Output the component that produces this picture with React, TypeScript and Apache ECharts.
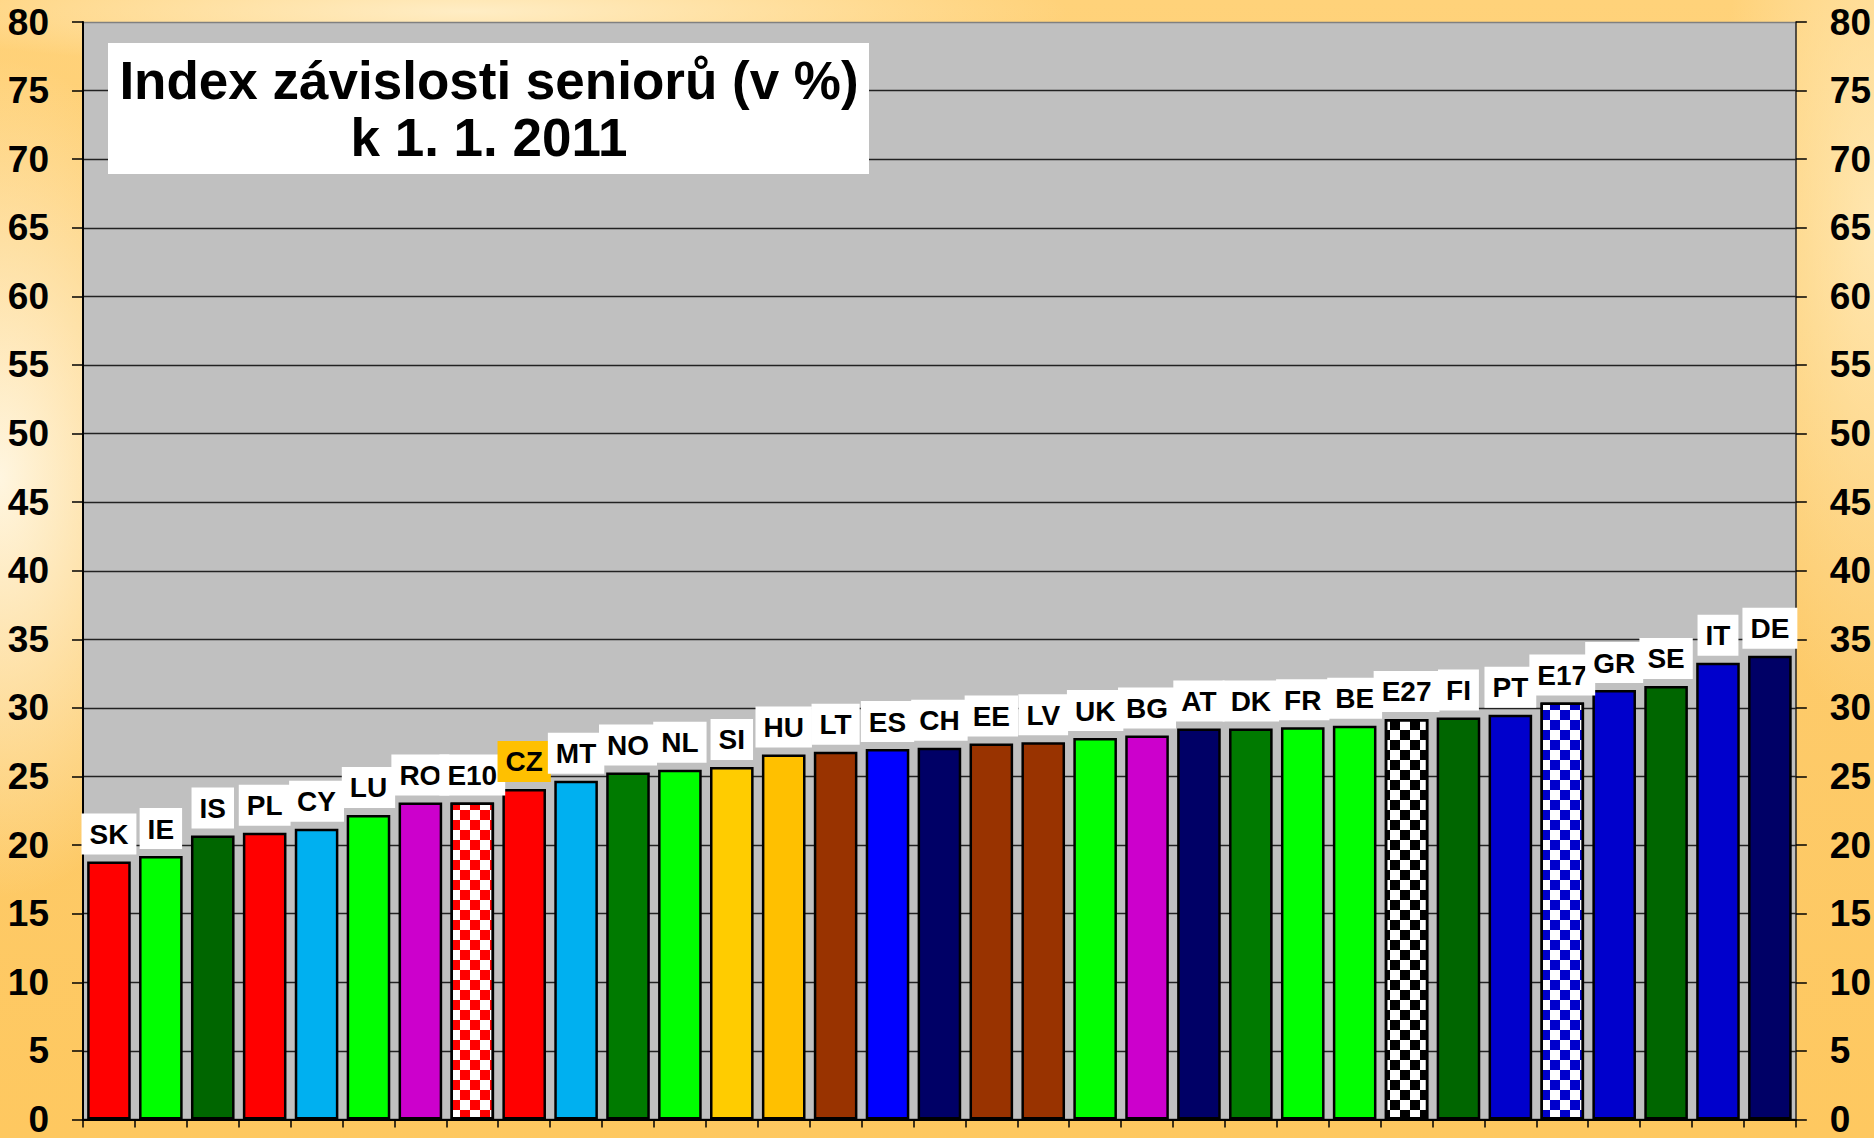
import React, { useEffect, useRef } from "react";
import * as echarts from "echarts";

const categories = ["SK","IE","IS","PL","CY","LU","RO","E10","CZ","MT","NO","NL","SI","HU","LT","ES","CH","EE","LV","UK","BG","AT","DK","FR","BE","E27","FI","PT","E17","GR","SE","IT","DE"];
const values = [18.8,19.2,20.7,20.9,21.2,22.2,23.1,23.1,24.1,24.7,25.3,25.5,25.7,26.6,26.8,27.0,27.1,27.4,27.5,27.8,28.0,28.5,28.5,28.6,28.7,29.2,29.3,29.5,30.4,31.3,31.6,33.3,33.8];
const yTicks = [0,5,10,15,20,25,30,35,40,45,50,55,60,65,70,75,80];
const titleLines = ["Index závislosti seniorů (v %)", "k 1. 1. 2011"];

const barColors: Record<string, string> = {
  SK: "#FF0000", IE: "#00FF00", IS: "#006600", PL: "#FF0000", CY: "#00B0F0",
  LU: "#00FF00", RO: "#CC00CC", CZ: "#FF0000", MT: "#00B0F0", NO: "#007A00",
  NL: "#00FF00", SI: "#FFCC00", HU: "#FFC000", LT: "#993300", ES: "#0000FF",
  CH: "#000066", EE: "#993300", LV: "#993300", UK: "#00FF00", BG: "#CC00CC",
  AT: "#000066", DK: "#007A00", FR: "#00FF00", BE: "#00FF00", FI: "#006600",
  PT: "#0000CC", GR: "#0000CC", SE: "#006600", IT: "#0000CC", DE: "#000066",
};
const checkerColors: Record<string, string> = { E10: "#FF0000", E27: "#000000", E17: "#0000CC" };
const highlighted = "CZ";

const FONT = "'Liberation Sans', Arial, sans-serif";

export default function App() {
  const ref = useRef<HTMLDivElement>(null);
  useEffect(() => {
    if (!ref.current) return;
    const chart = echarts.init(ref.current, undefined, { renderer: "svg" });
    const data = categories.map((c, i) => {
      const checker = checkerColors[c];
      const item: any = {
        value: values[i],
        itemStyle: checker
          ? {
              color: "#FFFFFF",
              decal: {
                symbol: "rect",
                symbolSize: 1,
                color: checker,
                dashArrayX: [[10, 10], [0, 10, 10, 0]],
                dashArrayY: [10, 0],
                rotation: 0,
              },
            }
          : { color: barColors[c] },
      };
      if (c === highlighted) item.label = { backgroundColor: "#FFC000" };
      return item;
    });
    const splitColors = yTicks.map((t) => (t === 80 ? "#808080" : "#222222"));
    const yAxisCommon = {
      type: "value",
      min: 0,
      max: 80,
      interval: 5,
      axisLine: { show: true, lineStyle: { color: "#000", width: 2 } },
      axisTick: { show: true, length: 11, lineStyle: { color: "#000", width: 1.5 } },
      axisLabel: {
        show: true,
        fontSize: 37,
        fontWeight: "bold",
        fontFamily: FONT,
        color: "#000",
        margin: 34,
      },
    };
    chart.setOption({
      animation: false,
      backgroundColor: "transparent",
      grid: {
        left: 83,
        right: 76,
        top: 22,
        bottom: 14,
        show: true,
        backgroundColor: "#C0C0C0",
        borderWidth: 0,
      },
      xAxis: {
        type: "category",
        data: categories,
        axisLine: { show: true, lineStyle: { color: "#000", width: 2 } },
        axisTick: { show: true, alignWithLabel: false, length: 8, lineStyle: { color: "#000", width: 1.5 } },
        axisLabel: { show: false },
        splitLine: { show: false },
      },
      yAxis: [
        {
          ...yAxisCommon,
          position: "left",
          splitLine: { show: true, lineStyle: { color: splitColors, width: 1.3 } },
        },
        {
          ...yAxisCommon,
          position: "right",
          axisLine: { show: true, lineStyle: { color: "#222", width: 1.5 } },
          splitLine: { show: false },
        },
      ],
      series: [
        {
          type: "bar",
          yAxisIndex: 0,
          data,
          barCategoryGap: "16%",
          itemStyle: { borderColor: "#000", borderWidth: 2.5 },
          label: {
            show: true,
            position: "top",
            distance: 7,
            formatter: "{b}",
            fontSize: 28,
            fontWeight: "bold",
            fontFamily: FONT,
            color: "#000",
            backgroundColor: "#FFFFFF",
            padding: [5, 8, 4, 8],
            lineHeight: 32,
          },
        },
      ],
      graphic: [
        {
          type: "rect",
          left: 108,
          top: 43,
          shape: { width: 761, height: 131 },
          style: { fill: "#FFFFFF" },
          z: 10,
        },
        {
          type: "text",
          x: 489,
          y: 80,
          z: 11,
          style: {
            text: titleLines[0],
            font: `bold 53px ${FONT}`,
            fill: "#000",
            textAlign: "center",
            textVerticalAlign: "middle",
          },
        },
        {
          type: "text",
          x: 489,
          y: 137,
          z: 11,
          style: {
            text: titleLines[1],
            font: `bold 53px ${FONT}`,
            fill: "#000",
            textAlign: "center",
            textVerticalAlign: "middle",
          },
        },
      ],
    });
    return () => chart.dispose();
  }, []);

  return (
    <div
      style={{
        position: "fixed",
        left: 0,
        top: 0,
        width: 1874,
        height: 1138,
        background:
          "radial-gradient(ellipse 220px 420px at 0% 42%, rgba(255,248,230,0.95), rgba(255,248,230,0) 100%)," +
          "radial-gradient(ellipse 600px 60px at 25% 1%, rgba(255,240,205,0.9), rgba(255,240,205,0) 100%)," +
          "radial-gradient(ellipse 160px 500px at 100% 20%, rgba(255,236,190,0.8), rgba(255,236,190,0) 100%)," +
          "linear-gradient(180deg, #FFD27A 0%, #FDCB6C 50%, #FEC860 100%)",
      }}
    >
      <div ref={ref} style={{ width: 1874, height: 1138 }} />
    </div>
  );
}
